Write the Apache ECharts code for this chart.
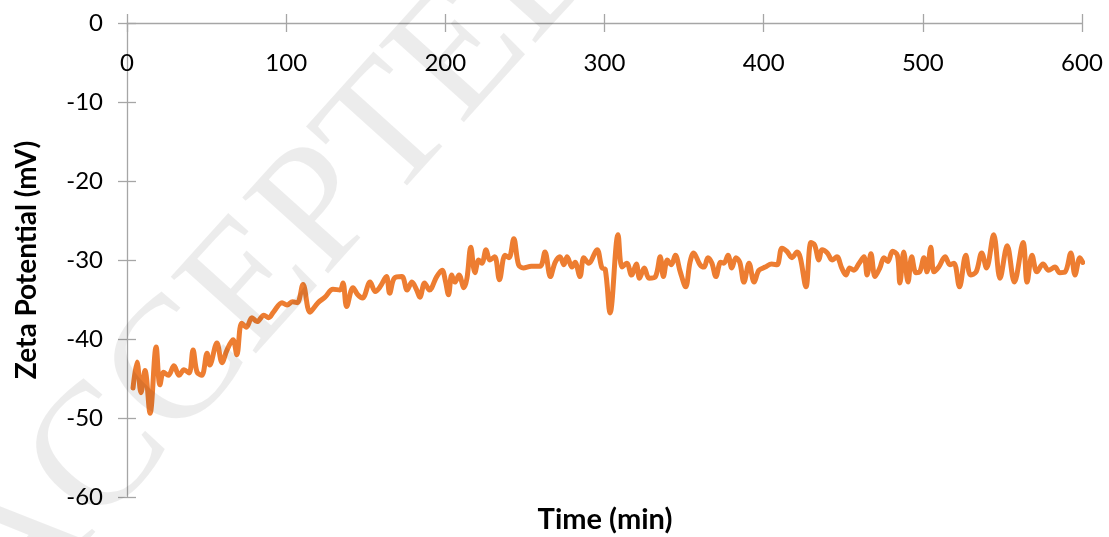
<!DOCTYPE html>
<html>
<head>
<meta charset="utf-8">
<script src="https://cdn.jsdelivr.net/npm/echarts@6/dist/echarts.min.js"></script>
<style>
  html, body { margin: 0; padding: 0; background: #fff; }
  #chart { width: 1109px; height: 537px; }
</style>
</head>
<body>
<div id="chart"></div>
<script>
// Time after mixing (min)
const times = [
  3.8, 6.3, 8.8, 11.3, 14.5, 18.3, 20.7, 23, 26, 29.5, 32.7, 35.8, 39, 41.5, 44, 47, 50.3, 52, 56.5, 59.7,
  62.8, 66.6, 69, 72, 75, 78.5, 81.7, 86, 89, 92, 97.4, 100.5, 104, 107, 110.6, 115, 120, 124.4, 129.4, 133.8,
  135.7, 138, 142, 145, 148, 152.7, 156, 159, 163, 165, 168, 172.7, 176, 179, 182, 184, 187, 190, 194.6, 198,
  200, 202, 204, 206, 208.6, 211.7, 213.6, 216, 218.6, 221, 223, 225.6, 228, 231, 234, 237.5, 240, 243, 246, 249,
  254, 259.5, 262.6, 266, 269, 272, 274.5, 276.5, 279.6, 281.5, 284.6, 287, 290, 295.3, 298.4, 300.5, 303.5, 308.5, 311, 314,
  317, 320, 322, 325, 328, 332, 335, 337, 339.5, 342, 344.5, 347.6, 351, 353.7, 356, 360, 362.5, 365, 367.5, 370,
  373, 375, 377.6, 380, 382.6, 385, 387.6, 390.8, 394, 397, 401, 405, 408.4, 411.5, 414.6, 417.8, 421, 423, 426.6, 429.7,
  432, 434.7, 436.7, 440, 443, 446, 449, 451.7, 454, 456.7, 460, 463, 465, 467.4, 470, 473, 475.6, 478, 481, 484,
  485.6, 488, 490.7, 493, 495.7, 498, 500.7, 502.6, 505, 507, 510, 514, 517, 519.6, 523, 527, 530, 533.5, 537, 540,
  544.5, 548.5, 553, 557.5, 563, 565.5, 568.6, 571.7, 575.5, 579, 583, 586, 589.4, 593, 595.6, 598.7, 600.5
];

// Zeta potential (mV)
const zeta = [
  -46.2, -42.9, -46.8, -44.0, -49.4, -41.0, -45.8, -44.2, -44.6, -43.4, -44.6, -43.9, -44.3, -41.4, -44.2, -44.6, -41.8, -43.3, -40.5, -43.0,
  -41.4, -40.1, -42.0, -38.0, -38.5, -37.3, -37.8, -37.0, -37.3, -36.6, -35.4, -35.7, -35.3, -35.4, -33.1, -36.6, -35.4, -34.7, -33.7, -33.8,
  -32.9, -35.9, -33.5, -34.4, -34.8, -32.8, -34.0, -33.4, -32.1, -34.2, -32.3, -32.1, -33.8, -32.8, -33.8, -34.7, -32.9, -33.8, -32.1, -31.3,
  -32.6, -34.4, -31.9, -32.8, -31.9, -33.5, -32.3, -28.4, -31.6, -30.0, -30.4, -28.7, -30.0, -29.6, -32.5, -29.4, -29.7, -27.3, -30.6, -31.0,
  -30.8, -30.8, -29.0, -32.1, -30.3, -29.6, -30.6, -29.6, -30.9, -30.3, -32.1, -29.7, -30.4, -28.7, -31.0, -31.2, -36.7, -26.8, -30.9, -30.4,
  -31.9, -30.5, -32.3, -31.0, -32.3, -32.1, -29.6, -32.1, -30.0, -30.6, -29.4, -31.5, -33.4, -30.3, -29.1, -30.6, -30.9, -29.7, -30.4, -32.1,
  -30.3, -30.4, -29.4, -31.0, -29.7, -30.3, -32.8, -30.4, -32.8, -31.3, -30.9, -30.5, -30.6, -28.5, -28.9, -29.7, -29.0, -29.7, -33.4, -27.8,
  -28.1, -30.0, -28.7, -29.1, -30.0, -29.6, -31.0, -31.9, -31.0, -31.3, -30.4, -29.6, -31.9, -29.2, -32.1, -31.0, -29.7, -30.2, -28.9, -29.4,
  -32.9, -29.0, -32.8, -29.6, -31.6, -31.5, -29.7, -31.5, -28.4, -31.5, -30.9, -29.6, -30.6, -30.4, -33.4, -29.4, -31.9, -31.5, -29.1, -31.0,
  -26.8, -32.3, -28.2, -32.8, -27.8, -32.8, -29.4, -31.5, -30.5, -31.3, -30.9, -31.6, -31.5, -29.1, -31.9, -29.7, -30.3
];

const xTitle = 'Time (min)';
const yTitle = 'Zeta Potential (mV)';
const stampText = 'ACCEPTED';

const axisGray = '#a6a6a6';
const fontStack = 'Lato, "Open Sans", sans-serif';
const labelFont = { fontFamily: fontStack, fontSize: 24, color: '#000' };

const chart = echarts.init(document.getElementById('chart'), null, { renderer: 'canvas' });

chart.setOption({
  animation: false,
  backgroundColor: '#ffffff',
  grid: { left: 127, right: 27, top: 23, bottom: 40, containLabel: false },
  xAxis: [
    {
      type: 'value', position: 'top', min: 0, max: 600, interval: 100,
      axisLine: { show: true, onZero: false, lineStyle: { color: axisGray, width: 1.3 } },
      axisTick: { show: true, length: 9, lineStyle: { color: axisGray, width: 1.3 } },
      axisLabel: Object.assign({ inside: true, margin: 28 }, labelFont),
      splitLine: { show: false }
    },
    {
      type: 'value', position: 'top', min: 0, max: 600, interval: 100,
      axisLine: { show: false },
      axisTick: { show: true, inside: true, length: 9, lineStyle: { color: axisGray, width: 1.3 } },
      axisLabel: { show: false },
      splitLine: { show: false }
    }
  ],
  yAxis: [
    {
      type: 'value', min: -60, max: 0, interval: 10,
      name: yTitle, nameLocation: 'middle', nameGap: 86,
      nameTextStyle: { fontFamily: fontStack, fontSize: 28, fontWeight: 'bold', color: '#000' },
      axisLine: { show: true, onZero: false, lineStyle: { color: axisGray, width: 1.3 } },
      axisTick: { show: true, length: 9, lineStyle: { color: axisGray, width: 1.3 } },
      axisLabel: Object.assign({ margin: 24 }, labelFont),
      splitLine: { show: false }
    },
    {
      type: 'value', position: 'left', min: -60, max: 0, interval: 10,
      axisLine: { show: false },
      axisTick: { show: true, inside: true, length: 9, lineStyle: { color: axisGray, width: 1.3 } },
      axisLabel: { show: false },
      splitLine: { show: false }
    }
  ],
  series: [{
    type: 'line',
    xAxisIndex: 0, yAxisIndex: 0,
    data: times.map((t, i) => [t, zeta[i]]),
    smooth: 0.35,
    showSymbol: false,
    lineStyle: { color: '#ED7D31', width: 5, cap: 'round', join: 'round' },
    z: 3
  }],
  graphic: [
    {
      type: 'text', x: 605, y: 520,
      style: { text: xTitle, font: 'bold 29px ' + fontStack, fill: '#000', align: 'center', verticalAlign: 'middle' },
      silent: true
    },
    {
      type: 'text', x: 280, y: 258, rotation: 48 * Math.PI / 180, z: 100,
      style: {
        text: stampText, font: '175px "Liberation Serif", "DejaVu Serif", serif',
        fill: 'rgba(0,0,0,0.075)', align: 'center', verticalAlign: 'middle'
      },
      silent: true
    }
  ]
});
</script>
</body>
</html>
